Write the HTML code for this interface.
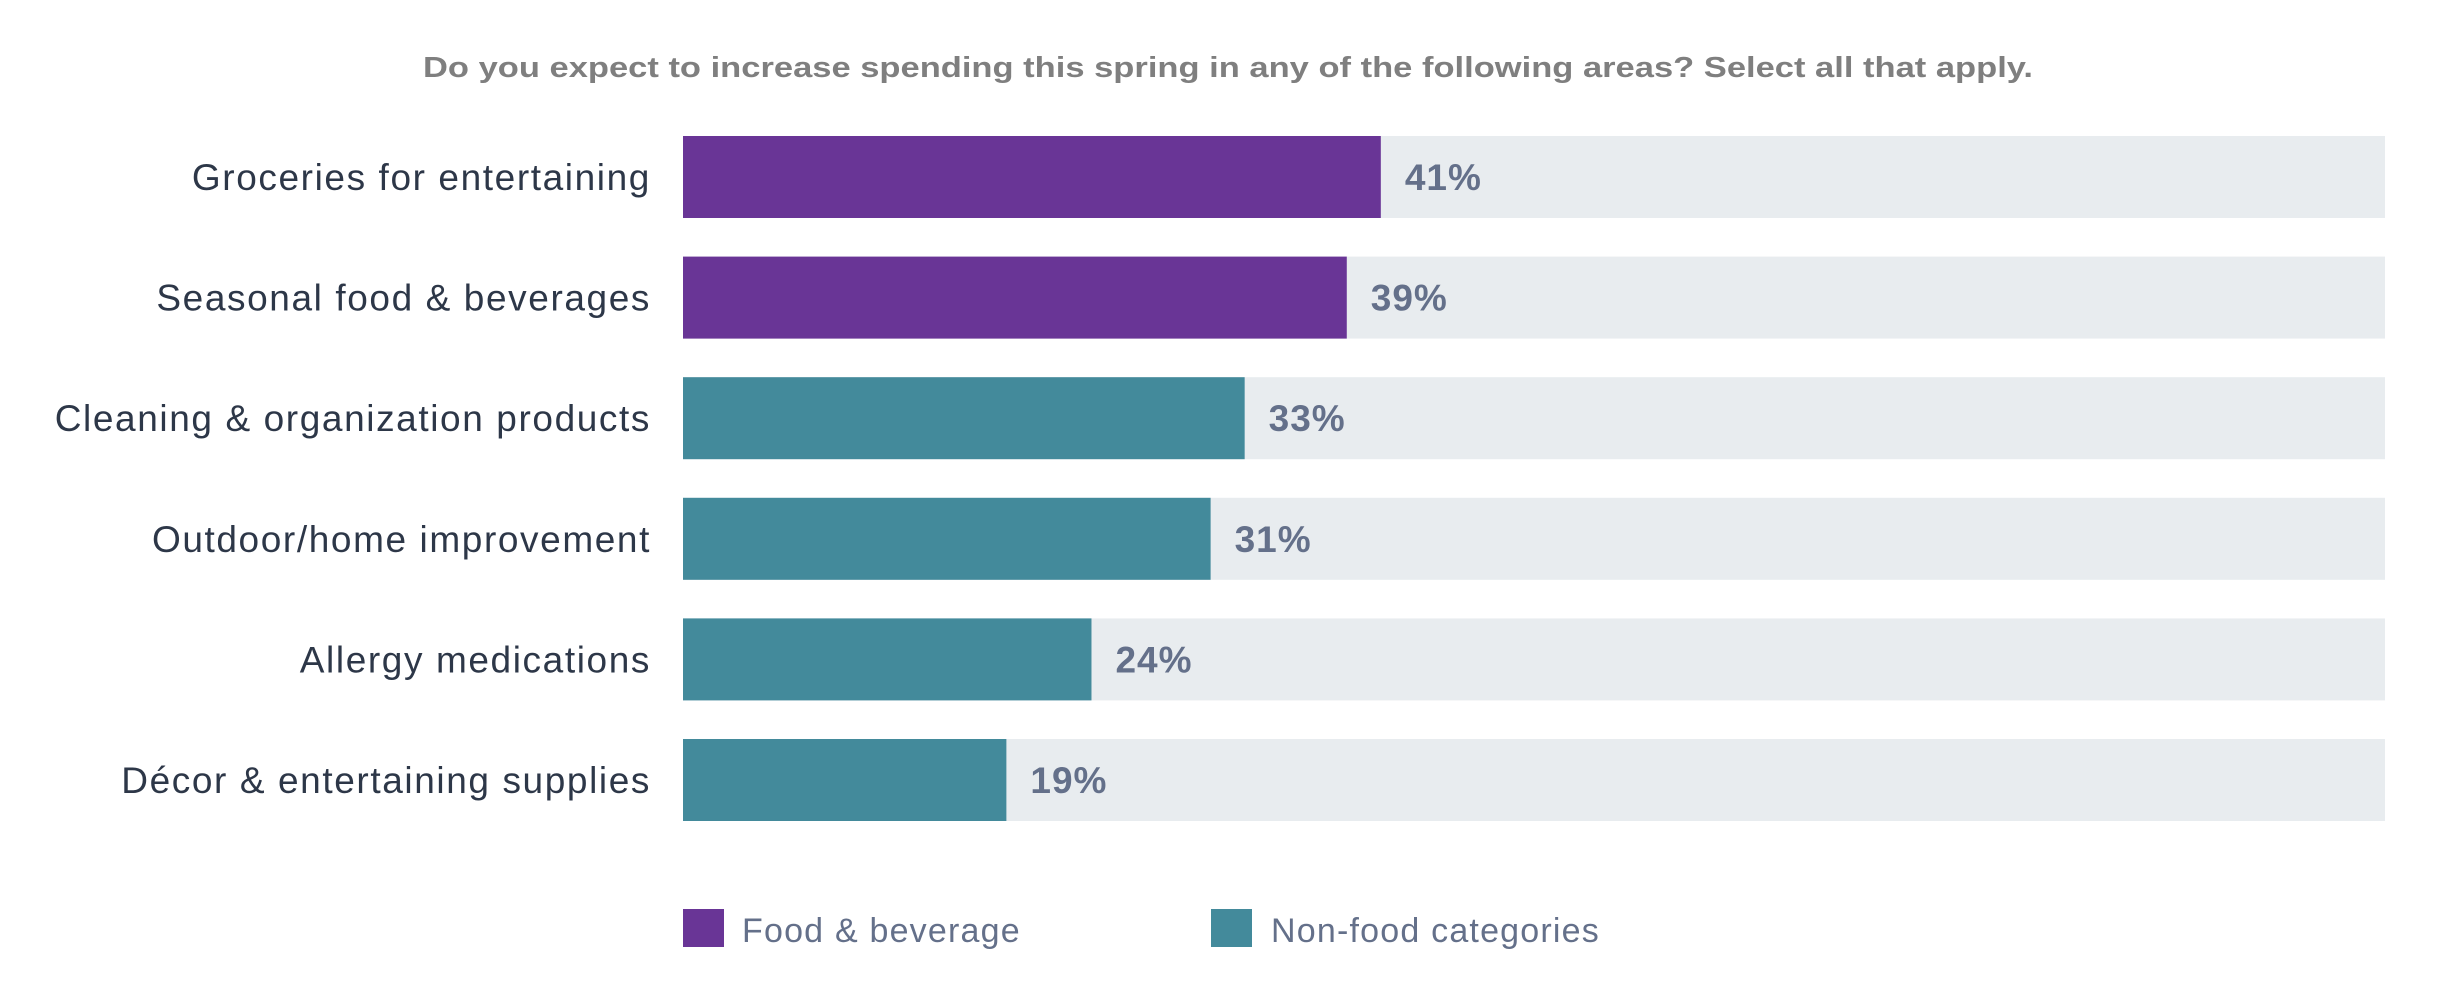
<!DOCTYPE html>
<html><head><meta charset="utf-8"><style>
html,body{margin:0;padding:0;background:#fff;}
svg{display:block;font-family:"Liberation Sans",sans-serif;}
</style></head><body>
<svg id="chart" width="2456" height="988" viewBox="0 0 2456 988">
<text x="1228" y="77" text-anchor="middle" font-size="29" font-weight="bold" fill="#7f7f7f" textLength="1610" lengthAdjust="spacingAndGlyphs">Do you expect to increase spending this spring in any of the following areas? Select all that apply.</text>
<g id="bars"></g>
<g>
<rect x="683" y="909" width="41" height="38" fill="#693596"/>
<text x="742" y="942" font-size="34" letter-spacing="1.2" fill="#64708a">Food &amp; beverage</text>
<rect x="1211" y="909" width="41" height="38" fill="#438a9b"/>
<text x="1271" y="942" font-size="34" letter-spacing="1.2" fill="#64708a">Non-food categories</text>
</g>
</svg>
<script>
const categories = ["Groceries for entertaining","Seasonal food & beverages","Cleaning & organization products","Outdoor/home improvement","Allergy medications","Décor & entertaining supplies"];
const values = [41,39,33,31,24,19];
const groups = ["food","food","nonfood","nonfood","nonfood","nonfood"];
const colors = {food:"#693596", nonfood:"#438a9b"};
const x0 = 683, x1 = 2385, maxV = 100;
const xs = v => x0 + (x1 - x0) * v / maxV;
const y0 = 136, pitch = 120.6, bh = 82;
const ys = i => y0 + i * pitch;
const NS = "http://www.w3.org/2000/svg";
const g = document.getElementById("bars");
categories.forEach((c, i) => {
  const y = ys(i);
  const track = document.createElementNS(NS, "rect");
  
  
  track.setAttribute("x", x0); track.setAttribute("y", y);
  track.setAttribute("width", x1 - x0); track.setAttribute("height", bh);
  track.setAttribute("fill", "#e8ecef");
  g.appendChild(track);
  const bar = document.createElementNS(NS, "rect");
  
  
  bar.setAttribute("x", x0); bar.setAttribute("y", y);
  bar.setAttribute("width", xs(values[i]) - x0); bar.setAttribute("height", bh);
  bar.setAttribute("fill", colors[groups[i]]);
  g.appendChild(bar);
  const lab = document.createElementNS(NS, "text");
  
  
  lab.setAttribute("x", 651); lab.setAttribute("y", y + bh / 2 + 13);
  lab.setAttribute("text-anchor", "end"); lab.setAttribute("font-size", "37");
  lab.setAttribute("letter-spacing", "1.6");
  lab.setAttribute("fill", "#2d3748");
  lab.textContent = c;
  g.appendChild(lab);
  const val = document.createElementNS(NS, "text");
  
  
  val.setAttribute("x", xs(values[i]) + 24); val.setAttribute("y", y + bh / 2 + 13);
  val.setAttribute("font-size", "37"); val.setAttribute("font-weight", "bold");
  val.setAttribute("letter-spacing", "1");
  val.setAttribute("fill", "#64708a");
  val.textContent = values[i] + "%";
  g.appendChild(val);
});
</script>
</body></html>
